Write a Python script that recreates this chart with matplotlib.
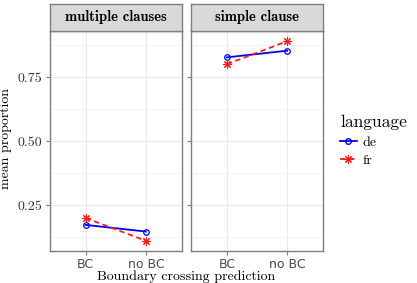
import numpy as np
import matplotlib
matplotlib.use("Agg")
import matplotlib.pyplot as plt
from matplotlib.lines import Line2D

# data
panels = ["multiple clauses", "simple clause"]
xcats = ["BC", "no BC"]
de_vals = [[0.172, 0.146], [0.827, 0.853]]
fr_vals = [[0.199, 0.110], [0.800, 0.890]]
yticks = [0.25, 0.50, 0.75]
yminor = [0.125, 0.375, 0.625, 0.875]

W, H = 417, 283
fig = plt.figure(figsize=(W / 100, H / 100), dpi=100)

serif = "cmr10"
bold = "cmb10"
frame = "#7f7f7f"
blue = "#0000ee"
red = "#ff1a1a"

lefts = [49.5, 190.7]
pw = 132.5
ptop, pbot = 31, 251
for i, name in enumerate(panels):
    ax = fig.add_axes([lefts[i] / W, 1 - pbot / H, pw / W, (pbot - ptop) / H])
    x = np.arange(1, 3)
    ax.plot(x, de_vals[i], color=blue, lw=1.3, marker="o", ms=4,
            mfc="none", mec=blue, mew=0.9, zorder=3)
    ax.plot(x, fr_vals[i], color=red, lw=1.3, ls=(0, (3, 2)),
            marker=(8, 2, 0), ms=6, mew=0.8, zorder=3)
    ax.set_xlim(0.4, 2.6)
    ax.set_ylim(0.07, 0.93)
    ax.set_xticks(x)
    ax.set_xticklabels(xcats, fontsize=9, color="#4d4d4d", family="DejaVu Sans")
    ax.set_yticks(yticks)
    ax.set_yticks(yminor, minor=True)
    if i == 0:
        ax.set_yticklabels(["%.2f" % v for v in yticks], fontsize=10,
                           family=serif, color="#333333")
    else:
        ax.set_yticklabels([])
    ax.tick_params(axis="both", which="major", length=3, color=frame, pad=2)
    ax.tick_params(axis="y", which="minor", length=0)
    ax.grid(True, which="major", color="#ebebeb", lw=0.8)
    ax.grid(True, which="minor", axis="y", color="#f2f2f2", lw=0.5)
    ax.set_axisbelow(True)
    for s in ax.spines.values():
        s.set_color(frame)
        s.set_linewidth(1.0)
    # facet strip
    sax = fig.add_axes([lefts[i] / W, 1 - ptop / H, pw / W, 27 / H])
    sax.set_xticks([])
    sax.set_yticks([])
    sax.set_facecolor("#d9d9d9")
    for s in sax.spines.values():
        s.set_color(frame)
        s.set_linewidth(1.0)
    sax.text(0.5, 0.5, name, ha="center", va="center", fontsize=10.5,
             family=bold, transform=sax.transAxes)

fig.text(6 / W, 1 - 139 / H, "mean proportion", rotation=90, ha="center",
         va="center", fontsize=10, family=serif)
fig.text((lefts[0] + lefts[1] + pw) / 2 / W, 1 - 277 / H,
         "Boundary crossing prediction", ha="center", va="center",
         fontsize=10, family=serif)

handles = [
    Line2D([], [], color=blue, lw=1.3, marker="o", ms=4, mfc="none", mec=blue),
    Line2D([], [], color=red, lw=1.3, ls=(0, (3, 2)), marker=(8, 2, 0), ms=6,
           mew=0.8),
]
leg = fig.legend(handles, ["de", "fr"], loc="upper left",
                 bbox_to_anchor=(340 / W, 1 - 115 / H), frameon=False,
                 title="language", handlelength=1.2, handletextpad=0.4,
                 labelspacing=0.4, prop={"family": serif, "size": 10},
                 alignment="left", borderaxespad=0, borderpad=0)
leg.get_title().set_fontsize(12.5)
leg.get_title().set_family(serif)

fig.savefig("out.png", dpi=100)
